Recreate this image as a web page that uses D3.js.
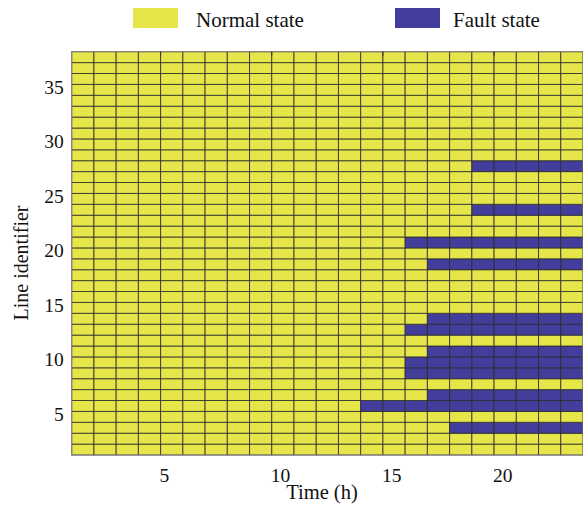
<!DOCTYPE html>
<html>
<head>
<meta charset="utf-8">
<script src="https://cdn.jsdelivr.net/npm/d3@7"></script>
<style>
  body { margin: 0; background: #fff; }
  text { font-family: "Liberation Serif", "Times New Roman", serif; }
</style>
</head>
<body>
<div id="chart"></div>
<script>
// grid: line identifiers (rows) and hours (columns), cells drawn like pcolor
var lines = [1,2,3,4,5,6,7,8,9,10,11,12,13,14,15,16,17,18,19,20,21,22,23,24,25,26,27,28,29,30,31,32,33,34,35,36,37]
var hours = [1,2,3,4,5,6,7,8,9,10,11,12,13,14,15,16,17,18,19,20,21,22,23]

// lines that go into fault, and the hour the fault starts (lasts to the end)
var faultLines = [3,5,6,8,9,10,12,13,18,20,23,27]
var faultStart = [18,14,17,16,16,17,16,17,17,16,19,19]

var xTicks = [5,10,15,20]
var yTicks = [5,10,15,20,25,30,35]
var legendLabels = ["Normal state", "Fault state"]

var normalColor = "#e6e64b",
    faultColor = "#433e9b"

//margins
var margin = {top: 51.7, right: 0, bottom: 50, left: 71.7},
  width = 583 - margin.left - margin.right,
  height = 403.3;

var svg = d3.select("#chart")
.append("svg")
  .attr("width", 583)
  .attr("height", 505)

var g = svg.append("g")
  .attr("transform", "translate(" + margin.left + "," + margin.top + ")")

var x = d3.scaleLinear().domain([1, 24]).range([0, width])
var y = d3.scaleLinear().domain([1, 38]).range([height, 0])

var startOf = {}
faultLines.forEach(function(l, i){ startOf[l] = faultStart[i] })

var cells = []
lines.forEach(function(l){
  hours.forEach(function(h){
    cells.push({line: l, hour: h, fault: startOf[l] !== undefined && h >= startOf[l]})
  })
})

//cells
g.selectAll("rect.cell")
.data(cells)
.enter()
.append("rect")
  .attr("class", "cell")
  .attr("x", function(d){ return x(d.hour) })
  .attr("y", function(d){ return y(d.line + 1) })
  .attr("width", function(d){ return x(d.hour + 1) - x(d.hour) })
  .attr("height", function(d){ return y(d.line) - y(d.line + 1) })
  .attr("fill", function(d){ return d.fault ? faultColor : normalColor })
  .attr("stroke", "#2b2b2b")
  .attr("stroke-opacity", 0.8)
  .attr("stroke-width", 1)

//frame
g.append("rect")
  .attr("x", 0).attr("y", 0)
  .attr("width", width).attr("height", height)
  .attr("fill", "none")
  .attr("stroke", "#888")
  .attr("stroke-width", 1)

//top ticks
g.selectAll("line.ttick")
.data(xTicks)
.enter()
.append("line")
  .attr("x1", function(d){ return x(d) })
  .attr("x2", function(d){ return x(d) })
  .attr("y1", 0)
  .attr("y2", 4)
  .attr("stroke", "#333")

//x axis labels (left edge sits at the tick in the original)
var xAxis = g.append("g")
  .attr("transform", "translate(0," + height + ")")
  .call(d3.axisBottom(x).tickValues(xTicks).tickSize(0).tickPadding(13).tickFormat(d3.format("d")))
xAxis.select(".domain").remove()
xAxis.selectAll("text")
  .attr("font-size", 19.5)
  .attr("fill", "#111")
  .attr("font-family", "Liberation Serif")
  .attr("text-anchor", "start")
  .attr("dx", -1.5)

//y axis labels
var yAxis = g.append("g")
  .call(d3.axisLeft(y).tickValues(yTicks).tickSize(0).tickPadding(8).tickFormat(d3.format("d")))
yAxis.select(".domain").remove()
yAxis.selectAll("text").attr("font-size", 19.5).attr("fill", "#111").attr("font-family", "Liberation Serif").attr("dy", "0.45em")

//axis titles
svg.append("text")
  .attr("x", 322)
  .attr("y", 499)
  .attr("text-anchor", "middle")
  .attr("font-size", 20.5)
  .attr("fill", "#111")
  .text("Time (h)")

svg.append("text")
  .attr("transform", "translate(28," + 263 + ") rotate(-90)")
  .attr("text-anchor", "middle")
  .attr("font-size", 20)
  .attr("fill", "#111")
  .text("Line identifier")

//legend
var legend = svg.selectAll("g.leg")
.data(legendLabels)
.enter()
.append("g")
  .attr("class", "leg")
  .attr("transform", function(d, i){ return "translate(" + (i === 0 ? 133 : 395) + ",8)" })

legend.append("rect")
  .attr("width", 45)
  .attr("height", 20)
  .attr("fill", function(d, i){ return i === 0 ? normalColor : faultColor })

legend.append("text")
  .attr("x", function(d, i){ return i === 0 ? 63 : 58 })
  .attr("y", 19)
  .attr("font-size", 21)
  .attr("fill", "#111")
  .text(function(d){ return d })
</script>
</body>
</html>
